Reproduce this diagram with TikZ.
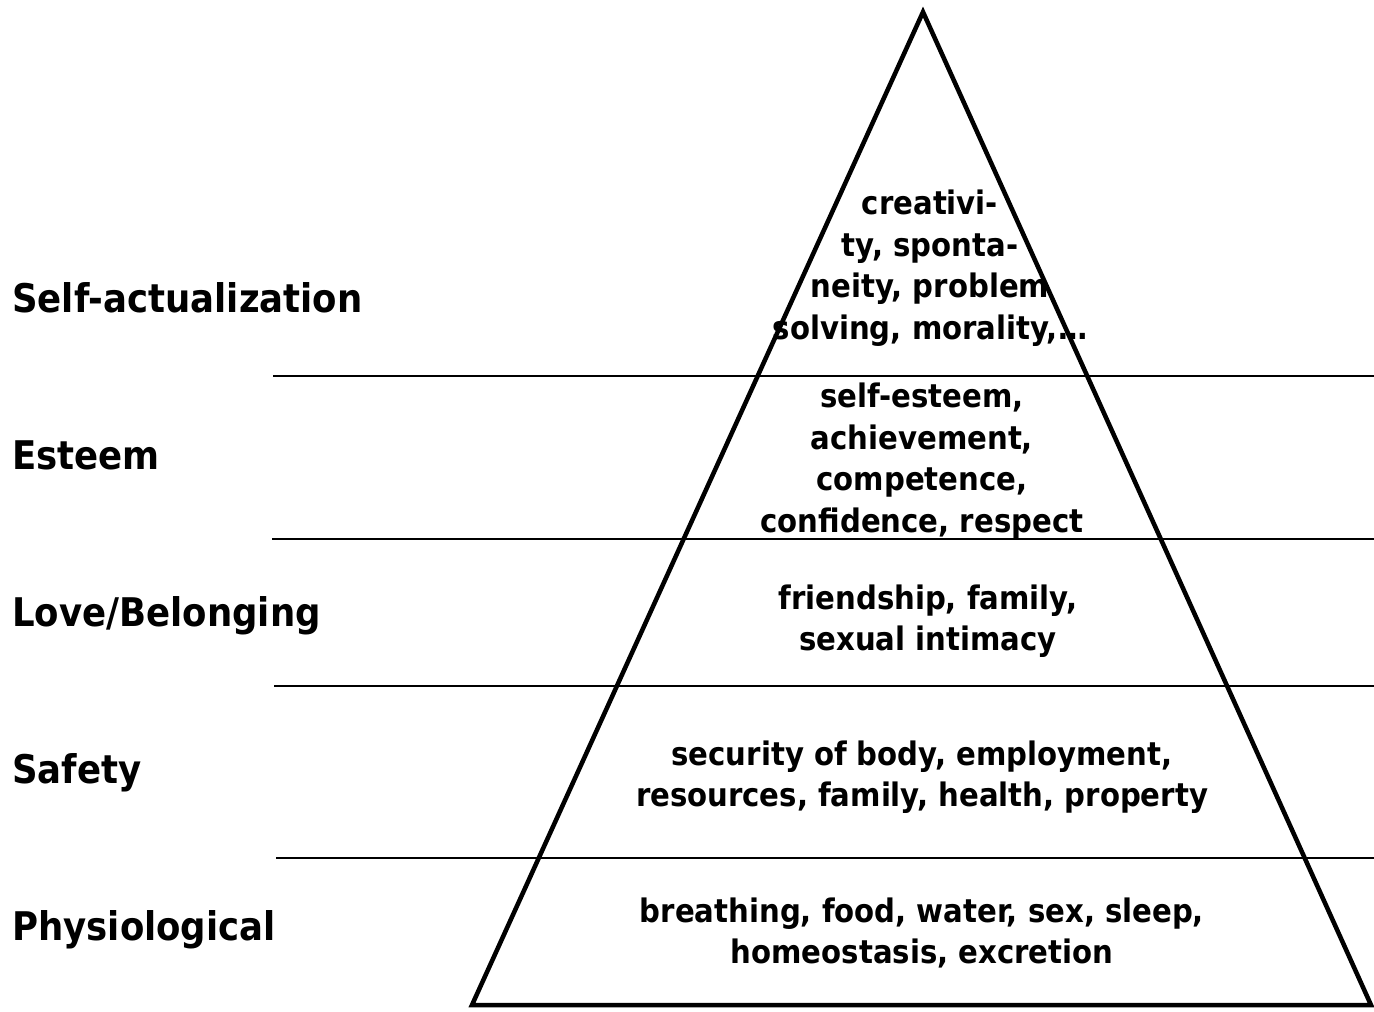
\documentclass[tikz,border=0pt]{standalone}
\usepackage{fontspec}
\setmainfont{DejaVu Sans Condensed}
\begin{document}
\begin{tikzpicture}[x=0.75pt,y=-0.75pt,
  level/.style={anchor=base west,inner sep=0pt,font=\bfseries\fontsize{29.6}{36}\selectfont},
  needs/.style={align=center,inner sep=0pt,font=\bfseries\fontsize{24.3}{31.2}\selectfont},
  divider/.style={line width=1.5pt},
  outline/.style={line width=3.4pt,line join=miter}]
\useasboundingbox (0,0) rectangle (1374,1011);
% pyramid outline
\coordinate (apex) at (923,12);
\coordinate (bl) at (472,1005);
\coordinate (br) at (1371,1005);
\draw[outline] (apex) -- (bl) -- (br) -- cycle;
% level dividers
\foreach \n/\xa/\yy in {1/273/376,2/272/539,3/274/686,4/276/858}{
  \coordinate (d\n a) at (\xa,\yy);
  \coordinate (d\n b) at (1374,\yy);
  \draw[divider] (d\n a) -- (d\n b);
}
% level names
\node[level] (selfact) at (12,312) {Self-actualization};
\node[level] (esteem) at (12,469) {Esteem};
\node[level] (love) at (12,626) {Love/Belonging};
\node[level] (safety) at (12,783) {Safety};
\node[level] (physio) at (12,940) {Physiological};
% needs inside the pyramid
\node[needs] (n1) at (930,268) {creativi-\\ty, sponta-\\neity, problem\\solving, morality,\dots};
\node[needs] (n2) at (922,461) {self-esteem,\\achievement,\\competence,\\confidence, respect};
\node[needs] (n3) at (928,621) {friendship, family,\\sexual intimacy};
\node[needs] (n4) at (922,777) {security of body, employment,\\resources, family, health, property};
\node[needs] (n5) at (922,933) {breathing, food, water, sex, sleep,\\homeostasis, excretion};
\end{tikzpicture}
\end{document}
